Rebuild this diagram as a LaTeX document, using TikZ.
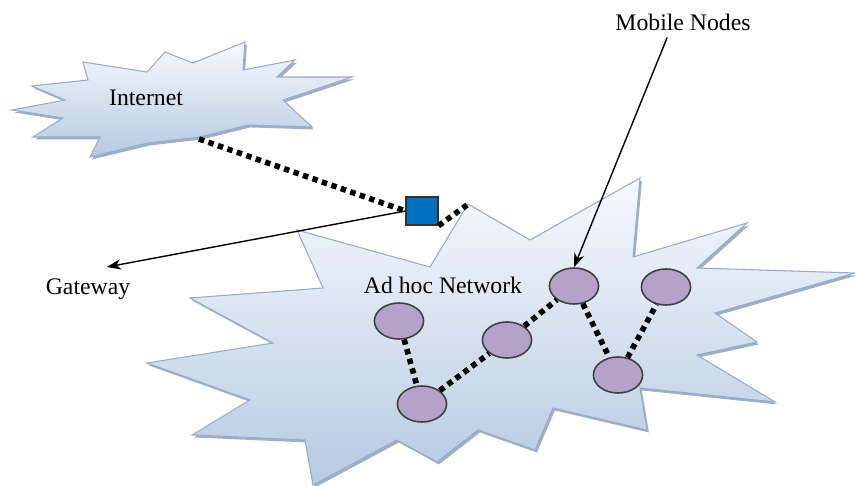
\documentclass[tikz,border=0pt]{standalone}
\usepackage{fontspec}
\setmainfont{Liberation Serif}
\usetikzlibrary{arrows.meta,shapes.geometric,shadows}

\definecolor{cloudtop}{RGB}{247,249,253}
\definecolor{cloudbot}{RGB}{182,202,226}
\definecolor{cloudedge}{RGB}{150,172,200}
\definecolor{cloudshade}{RGB}{158,176,200}
\definecolor{mobfill}{RGB}{180,162,202}
\definecolor{gwblue}{RGB}{0,112,192}

\begin{document}
\begin{tikzpicture}[x=0.02cm, y=-0.02cm,
  cloud/.style={draw=cloudedge, line width=0.6pt, top color=cloudtop, bottom color=cloudbot,
    drop shadow={shadow xshift=1.1pt, shadow yshift=-1.4pt, fill=cloudshade, opacity=1}},
  mobile/.style={ellipse, draw=black!75, line width=0.9pt, fill=mobfill,
    minimum width=28pt, minimum height=20.5pt, inner sep=0pt},
  gateway/.style={draw=black!80, line width=0.8pt, fill=gwblue,
    minimum width=18pt, minimum height=16pt, inner sep=0pt},
  link/.style={line width=3.2pt, dash pattern=on 3.1pt off 2.6pt},
  pointer/.style={line width=0.8pt, -{Stealth[length=8pt, width=6pt]}},
  txt/.style={font=\fontsize{13.5}{16}\selectfont, anchor=base}]

  \useasboundingbox (0,0) rectangle (855,486);

  % the two clouds
  \draw[cloud] (32,86) -- (88,80) -- (83,62) -- (147,72) -- (165,52) -- (193,63)
    -- (245,42) -- (243,70) -- (295,60) -- (277,77) -- (352,77) -- (283,100)
    -- (312,127) -- (248,125) -- (200,137) -- (148,143) -- (90,157) -- (100,137)
    -- (33,137) -- (63,118) -- (12,110) -- (65,100) -- cycle;
  \draw[cloud] (468,204) -- (530,240) -- (640,178) -- (633,257) -- (747,223)
    -- (697,268) -- (855,273) -- (715,313) -- (757,342) -- (697,355) -- (775,402)
    -- (640,388) -- (647,430) -- (553,408) -- (535,450) -- (478,430) -- (437,462)
    -- (397,440) -- (313,485) -- (305,440) -- (192,435) -- (250,400) -- (147,363)
    -- (273,343) -- (190,298) -- (323,288) -- (297,230) -- (430,267) -- cycle;

  \coordinate (inetport) at (199,139);
  \coordinate (cloudtip) at (467,205);
  \coordinate (gwtip) at (107,267);

  \node[txt] (inet) at (146,106) {Internet};
  \node[txt] (adhoc) at (443,293) {Ad hoc Network};
  \node[txt] (gwtext) at (88,295) {Gateway};
  \node[txt] (mob) at (683,31) {Mobile Nodes};

  \node[gateway] (gw) at (422,211) {};
  \node[mobile] (n1) at (574,286) {};
  \node[mobile] (n2) at (666,287) {};
  \node[mobile] (n3) at (618,375) {};
  \node[mobile] (n4) at (507,340) {};
  \node[mobile] (n5) at (399,321) {};
  \node[mobile] (n6) at (422,404) {};

  \draw[link] (inetport) -- (gw.west);
  \draw[link] (gw.south east) -- (cloudtip);
  \draw[link] (n5) -- (n6);
  \draw[link] (n6) -- (n4);
  \draw[link] (n4) -- (n1);
  \draw[link] (n1) -- (n3);
  \draw[link] (n3) -- (n2);

  \draw[pointer] (gw.west) -- (gwtip);
  \draw[pointer] ([xshift=-9pt]mob.south) -- (n1.north);
\end{tikzpicture}
\end{document}
